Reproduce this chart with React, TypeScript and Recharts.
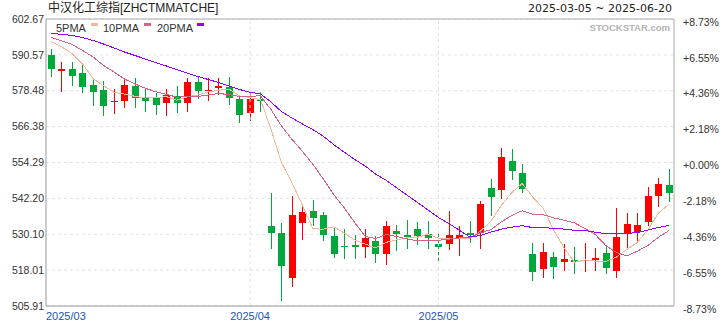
import React from 'react';
import { ComposedChart, Bar, Line, XAxis, YAxis, CartesianGrid, ReferenceLine } from 'recharts';

// ---- data ----
const opens = [590.53, 585.3, 585.81, 584.46, 580.52, 578.73, 574.69, 575.03, 580.08, 576.14, 575.93, 574.45, 576.71, 574.45, 581.53, 578.4, 579.41, 579.85, 575.6, 571.08, 575.6, 532.88, 530.62, 515.25, 533.99, 537.84, 536.59, 529.51, 526.04, 526.38, 525.91, 527.82, 523.54, 531.19, 529.85, 531.87, 530.08, 526.81, 526.71, 528.4, 530.62, 530.42, 545.79, 545.02, 554.8, 550.85, 523.34, 518.39, 522.33, 520.64, 521.42, 521.08, 521.42, 523.68, 517.81, 530.62, 530.76, 534.3, 543.1, 546.7];
const highs = [592.45, 588.27, 588.27, 587.5, 582.34, 581.87, 578.97, 582.1, 582.88, 578.97, 577.82, 578.97, 580.08, 582.88, 583.45, 582.68, 582.68, 583.22, 577.05, 578.16, 578.16, 543.91, 533.99, 542.98, 539.96, 541.65, 537.7, 532.65, 531.77, 529.85, 531.77, 529.51, 534.57, 533.22, 534.9, 534.12, 534.57, 531.2, 537.94, 532.88, 534.57, 541.42, 548.63, 559.28, 558.84, 553.78, 527.05, 527.25, 524.22, 526.81, 525.7, 527.25, 525.36, 525.9, 538.85, 537.37, 537.16, 546.13, 549.17, 552.1];
const lows = [583.01, 578.16, 580.08, 577.62, 573.44, 569.97, 570.64, 572.77, 572.66, 571.42, 570.41, 570.07, 571.08, 571.42, 575.7, 575.03, 577.05, 573.68, 567.71, 568.38, 571.42, 525.23, 507.7, 512.42, 528.16, 532.99, 527.92, 522.2, 521.66, 521.86, 522.2, 520.51, 519.84, 524.55, 525.13, 526.38, 525.02, 520.51, 524.79, 522.87, 527.25, 525.13, 536.35, 541.88, 548.39, 544.11, 514.44, 515.45, 514.91, 517.71, 516.6, 517.27, 517.81, 516.7, 515.25, 525.13, 527.82, 532.9, 539.39, 541.09];
const closes = [585.71, 585.8, 583.55, 579.85, 577.96, 573.44, 575.03, 580.42, 576.14, 575.13, 573.78, 577.05, 574.45, 581.53, 578.5, 578.73, 580.08, 576.14, 570.31, 575.7, 575.13, 530.42, 519.5, 536.59, 537.5, 535.68, 529.85, 523.54, 525.8, 525.92, 528.74, 523.54, 532.88, 530.08, 529.28, 529.61, 528.94, 525.69, 529.85, 529.85, 529.74, 540.4, 542.76, 556.25, 551.53, 545.26, 517.27, 524.22, 519.16, 521.66, 520.75, 521.42, 522.09, 518.82, 529.07, 533.56, 533.22, 543.1, 547.04, 543.91];
const ma5 = [595.0, 593.3, 591.0, 587.5, 582.57, 580.12, 577.97, 577.34, 576.6, 576.03, 576.1, 576.5, 575.31, 576.39, 577.06, 578.05, 578.66, 579.0, 576.75, 576.19, 575.47, 565.54, 554.21, 547.47, 539.83, 531.94, 531.82, 532.63, 530.47, 528.16, 526.77, 525.51, 527.38, 528.23, 528.9, 529.08, 530.16, 528.72, 528.67, 528.79, 528.81, 531.11, 534.52, 539.8, 544.14, 547.24, 542.61, 538.91, 531.49, 525.51, 520.61, 521.44, 521.02, 520.95, 522.43, 524.99, 527.35, 531.55, 537.2, 540.17];
const ma10 = [596.5, 595.25, 594.07, 592.05, 589.86, 587.0, 584.8, 582.44, 580.76, 579.3, 578.11, 577.24, 576.33, 576.49, 576.55, 577.08, 577.58, 577.15, 576.57, 576.63, 576.76, 572.1, 566.6, 562.11, 558.01, 553.71, 548.68, 543.42, 538.97, 533.99, 529.35, 528.67, 530.0, 529.35, 528.53, 527.92, 527.83, 528.05, 528.45, 528.85, 528.95, 530.63, 531.62, 534.24, 536.46, 538.03, 536.86, 536.71, 535.64, 534.83, 533.93, 532.03, 529.96, 526.22, 523.97, 522.8, 524.4, 526.29, 529.07, 531.3];
const ma20 = [597.78, 597.51, 597.11, 596.43, 595.42, 594.24, 592.89, 591.54, 590.36, 589.18, 588.0, 586.83, 585.64, 584.47, 583.29, 582.27, 581.26, 580.08, 578.9, 577.97, 577.44, 574.67, 571.46, 569.3, 567.28, 565.39, 563.13, 560.29, 557.77, 555.31, 553.06, 550.38, 548.3, 545.73, 543.27, 540.81, 538.26, 535.74, 533.71, 531.42, 529.15, 529.65, 530.81, 531.8, 532.5, 532.98, 532.35, 532.38, 532.05, 531.84, 531.44, 531.33, 530.79, 530.23, 530.22, 530.41, 530.63, 531.5, 532.36, 533.06];

const yTicks = [505.91, 518.01, 530.1, 542.2, 554.29, 566.38, 578.48, 590.57, 602.67];
const yTickLabels = ['505.91', '518.01', '530.10', '542.20', '554.29', '566.38', '578.48', '590.57', '602.67'];
const pctLabels = ['-8.73%', '-6.55%', '-4.36%', '-2.18%', '+0.00%', '+2.18%', '+4.36%', '+6.55%', '+8.73%'];
const xTickIdx = [0, 19, 37];
const xTickLabels = ['2025/03', '2025/04', '2025/05'];
const monthStarts = [19, 37];
const seriesNames = ['5PMA', '10PMA', '20PMA'];
const title = '中汉化工综指[ZHCTMMATCHE]';
const dateRange = '2025-03-05 ~ 2025-06-20';

const data = closes.map((c, i) => ({
  i,
  open: opens[i],
  high: highs[i],
  low: lows[i],
  close: c,
  ma5: ma5[i],
  ma10: ma10[i],
  ma20: ma20[i],
}));

// ---- styling ----
const W = 720;
const H = 320;
const PLOT_LEFT = 46;
const UP = '#ff0000';
const DOWN = '#00a83b';
const C5 = '#f5b796';
const C10 = '#d7608a';
const C20 = '#9600ff';
const colors = [C5, C10, C20];
const FONT = '"Liberation Sans", Arial, "Noto Sans CJK SC", sans-serif';

const Candle = (props: any) => {
  const { x, y, width, height, payload } = props;
  if (!payload) return null;
  const { open, close, high, low } = payload;
  const cx = x + width / 2;
  const top = Math.min(y, y + height);
  const h = Math.abs(height);
  const ppu = high - low > 0 ? h / (high - low) : 0;
  const yOf = (v: number) => top + (high - v) * ppu;
  const color = close >= open ? UP : DOWN;
  const left = Math.round(cx - 3.5);
  const bTop = Math.round(yOf(Math.max(open, close)));
  const bBot = Math.round(yOf(Math.min(open, close)));
  const bodyH = Math.max(1, bBot - bTop);
  return (
    <g>
      <line x1={left + 3.5} x2={left + 3.5} y1={Math.round(top)} y2={Math.round(top + h)} stroke={color} strokeWidth={1} shapeRendering="crispEdges" />
      <rect x={left} y={bTop} width={7} height={bodyH} fill={color} shapeRendering="crispEdges" />
    </g>
  );
};

const LeftTick = (props: any) => {
  const { y, payload } = props;
  const idx = yTicks.indexOf(payload.value);
  return (
    <text x={PLOT_LEFT - 2} y={y} dy="0.35em" textAnchor="end" fontSize={10.5} fill="#333" fontFamily={FONT}>
      {idx >= 0 ? yTickLabels[idx] : payload.value}
    </text>
  );
};

const RightTick = (props: any) => {
  const { x, y, payload } = props;
  const idx = yTicks.indexOf(payload.value);
  return (
    <text x={x + 9} y={y + 3} dy="0.35em" textAnchor="start" fontSize={10.5} fill="#333" fontFamily={FONT}>
      {idx >= 0 ? pctLabels[idx] : ''}
    </text>
  );
};

const BottomTick = (props: any) => {
  const { x, y, payload } = props;
  const idx = xTickIdx.indexOf(payload.value);
  const first = idx === 0;
  return (
    <text x={first ? PLOT_LEFT : x} y={y + 13.5} textAnchor={first ? 'start' : 'middle'} fontSize={11} fill="#1e56b0" fontFamily={FONT}>
      {idx >= 0 ? xTickLabels[idx] : ''}
    </text>
  );
};

export default function App() {
  return (
    <div style={{ position: 'absolute', left: 0, top: 0, width: W, height: H, background: '#fff', fontFamily: FONT, overflow: 'hidden' }}>
      <ComposedChart width={W} height={H} data={data} margin={{ top: 19, right: 0, bottom: 0, left: 0 }}>
        <CartesianGrid yAxisId="left" vertical={false} stroke="#e2e2e2" strokeDasharray="3 3" />
        <XAxis
          dataKey="i"
          type="number"
          domain={[-0.5, 59.5]}
          ticks={xTickIdx}
          interval={0}
          height={14}
          tickLine={false}
          tickSize={0}
          tickMargin={0}
          axisLine={{ stroke: '#999' }}
          tick={<BottomTick />}
          allowDataOverflow
        />
        <YAxis
          yAxisId="left"
          orientation="left"
          width={46}
          domain={[505.91, 602.67]}
          ticks={yTicks}
          interval={0}
          tickLine={false}
          tickSize={0}
          tickMargin={0}
          axisLine={{ stroke: '#999' }}
          tick={<LeftTick />}
          allowDataOverflow
        />
        <YAxis
          yAxisId="right"
          orientation="right"
          width={46}
          domain={[505.91, 602.67]}
          ticks={yTicks}
          interval={0}
          tickLine={false}
          tickSize={0}
          tickMargin={0}
          axisLine={{ stroke: '#aaa' }}
          tick={<RightTick />}
          allowDataOverflow
        />
        {monthStarts.map((m) => (
          <ReferenceLine key={m} x={m} yAxisId="left" stroke="#e2e2e2" strokeDasharray="3 3" />
        ))}
        <ReferenceLine y={602.67} yAxisId="left" stroke="#aaa" />
        <Bar
          yAxisId="left"
          dataKey={(d: any) => [d.low, d.high]}
          barSize={7}
          shape={<Candle />}
          isAnimationActive={false}
        />
        <Line yAxisId="left" type="linear" dataKey="ma5" stroke={C5} strokeWidth={1} dot={false} activeDot={false} isAnimationActive={false} shapeRendering="crispEdges" />
        <Line yAxisId="left" type="linear" dataKey="ma10" stroke={C10} strokeWidth={1} dot={false} activeDot={false} isAnimationActive={false} shapeRendering="crispEdges" />
        <Line yAxisId="left" type="linear" dataKey="ma20" stroke={C20} strokeWidth={1} dot={false} activeDot={false} isAnimationActive={false} shapeRendering="crispEdges" />
      </ComposedChart>

      <div style={{ position: 'absolute', left: 48, top: 1, fontSize: 12, lineHeight: '15px', color: '#222', whiteSpace: 'nowrap' }}>{title}</div>
      <div style={{ position: 'absolute', right: 48, top: 1, fontSize: 11, lineHeight: '15px', color: '#222', whiteSpace: 'nowrap', fontFamily: '"DejaVu Sans", sans-serif' }}>{dateRange}</div>

      {seriesNames.map((n, k) => {
        const lefts = [56, 103, 157];
        const sw = [91, 144, 197];
        return (
          <React.Fragment key={n}>
            <div style={{ position: 'absolute', left: lefts[k], top: 21, fontSize: 11, lineHeight: '14px', color: '#333', whiteSpace: 'nowrap' }}>{n}</div>
            <div style={{ position: 'absolute', left: sw[k], top: 23, width: 7, height: 3, background: colors[k] }} />
          </React.Fragment>
        );
      })}

      <div style={{ position: 'absolute', right: 50, top: 22, fontSize: 9.5, fontWeight: 700, lineHeight: '12px', color: '#b4b4b4', whiteSpace: 'nowrap' }}>STOCKSTAR.com</div>
    </div>
  );
}
